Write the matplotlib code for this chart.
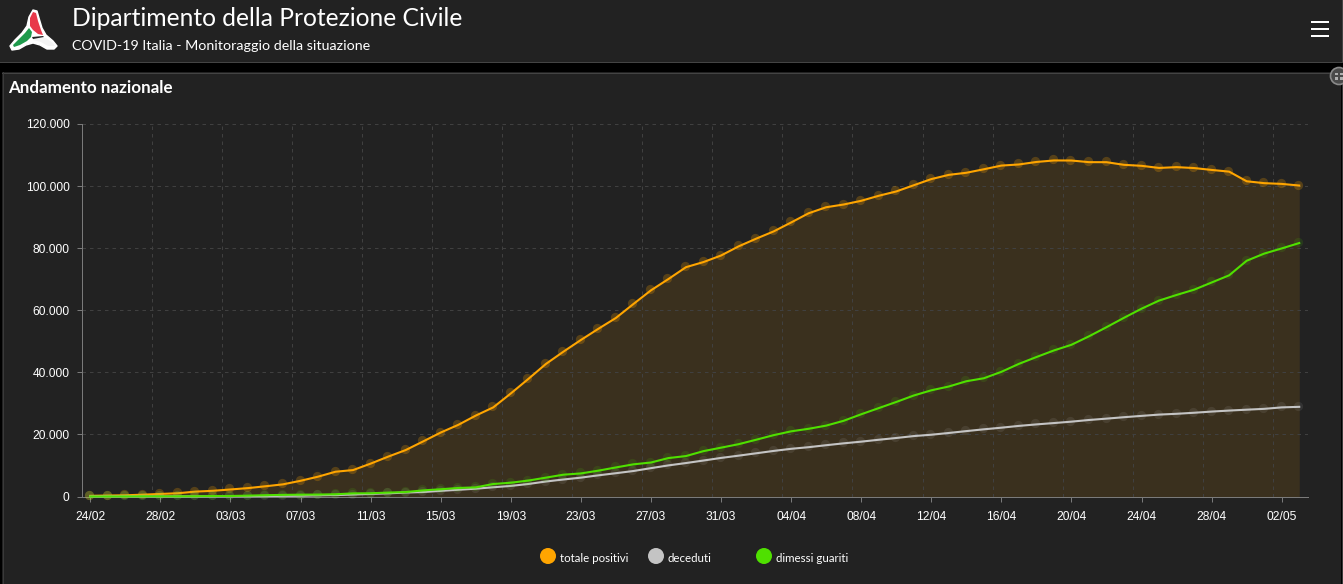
import pandas as pd
import matplotlib
matplotlib.use("Agg")
import matplotlib.pyplot as plt
from matplotlib.patches import Rectangle, Circle, PathPatch
from matplotlib.path import Path
from matplotlib.ticker import FuncFormatter
from matplotlib.transforms import offset_copy

W, H = 1343, 584

# one label per day, 24/02 to 03/05
giorni = pd.date_range("2020-02-24", "2020-05-03").strftime("%d/%m").tolist()

totale_positivi = [221, 311, 385, 588, 821, 1049, 1577, 1835, 2263, 2706,
                   3296, 3916, 5061, 6387, 7985, 8514, 10590, 12839, 14955, 17750,
                   20603, 23073, 26062, 28710, 33190, 37860, 42681, 46638, 50418, 54030,
                   57521, 62013, 66414, 70065, 73880, 75528, 77635, 80572, 83049, 85388,
                   88274, 91246, 93187, 94067, 95262, 96877, 98273, 100269, 102253, 103616,
                   104291, 105418, 106607, 106962, 107771, 108257, 108237, 107709, 107699, 106848,
                   106527, 105847, 106103, 105813, 105205, 104657, 101551, 100943, 100704, 100179]
deceduti = [7, 10, 12, 17, 21, 29, 34, 52, 79, 107,
            148, 197, 233, 366, 463, 631, 827, 1016, 1266, 1441,
            1809, 2158, 2503, 2978, 3405, 4032, 4825, 5476, 6077, 6820,
            7503, 8215, 9134, 10023, 10779, 11591, 12428, 13155, 13915, 14681,
            15362, 15887, 16523, 17127, 17669, 18279, 18849, 19468, 19899, 20465,
            21067, 21645, 22170, 22745, 23227, 23660, 24114, 24648, 25085, 25549,
            25969, 26384, 26644, 26977, 27359, 27682, 27967, 28236, 28710, 28884]
dimessi_guariti = [1, 1, 3, 45, 46, 50, 83, 149, 160, 276,
                   414, 523, 589, 622, 724, 1004, 1045, 1258, 1439, 1966,
                   2335, 2749, 2941, 4025, 4440, 5129, 6072, 7024, 7432, 8326,
                   9362, 10361, 10950, 12384, 13030, 14620, 15729, 16847, 18278, 19758,
                   20996, 21815, 22837, 24392, 26491, 28470, 30455, 32534, 34211, 35435,
                   37130, 38092, 40164, 42727, 44927, 47055, 48877, 51600, 54543, 57576,
                   60498, 63120, 64928, 66624, 68941, 71252, 75945, 78249, 79914, 81654]

y_ticks = [0, 20000, 40000, 60000, 80000, 100000, 120000]

ARANCIO = "#ffa500"
GRIGIO = "#c4c4c4"
VERDE = "#4fe000"
SFONDO = "#222222"
TESTO_FONT = ["Lato", "DejaVu Sans"]


def px(size):
    # font size given in pixels
    return size * 0.72


def draw_logo(bg):
    def blob(points, color, zorder=3, edge="none", lw=0):
        codes = [Path.MOVETO] + [Path.LINETO] * (len(points) - 2) + [Path.CLOSEPOLY]
        bg.add_patch(PathPatch(Path(points, codes), fc=color, ec=edge, lw=lw,
                               joinstyle="round", zorder=zorder))

    outline = [(33, 10), (37, 11), (39, 18), (42, 28), (46, 35), (53, 41), (57, 46), (54, 49),
               (47, 49), (40, 45), (33, 43), (26, 45), (19, 49), (12, 50), (10, 46), (15, 40),
               (22, 33), (27, 26), (29, 17), (33, 10)]
    blob(outline, "#ffffff", edge="#ffffff", lw=1)
    blob([(33, 12), (36, 13), (38, 21), (41, 30), (43, 35), (38, 34), (33, 30), (30, 26),
          (30, 18), (33, 12)], "#e8384a", 4)
    blob([(29, 28), (32, 32), (31, 37), (27, 41), (20, 45), (14, 47), (13, 45), (18, 40),
          (25, 33), (29, 28)], "#1f9a4c", 4)
    blob([(33, 38), (40, 37), (46, 38), (53, 43), (55, 46), (48, 46), (41, 42), (33, 40),
          (33, 38)], "#f4f4f4", 4)
    blob([(32, 37), (43, 36), (44, 37), (33, 39), (32, 37)], "#222222", 5)


def draw_frame(bg):
    # header bar and chart panel
    bg.add_patch(Rectangle((0, 0), W, 61.5, fc=SFONDO, ec="none"))
    bg.plot([0, 1341], [61.5, 61.5], color="#444444", lw=0.72)
    bg.plot([1341.5, 1341.5], [0, 61.5], color="#444444", lw=0.72)
    bg.add_patch(Rectangle((2, 72), 1339, H - 72, fc=SFONDO, ec="none"))
    bg.plot([2, 1341], [72.5, 72.5], color="#444444", lw=0.72)
    bg.plot([2.5, 2.5], [72, H], color="#3a3a3a", lw=0.72)
    bg.plot([1341.5, 1341.5], [72, H], color="#3a3a3a", lw=0.72)

    # hamburger menu
    for y in [21.5, 29, 36]:
        bg.add_patch(Rectangle((1311, y - 1), 18, 2, fc="white", ec="none"))

    # expand button, cut by the page edge
    bg.add_patch(Circle((1339, 76), 8.5, fc="#4a4a4a", ec="#8a8a8a", lw=1.2, zorder=3))
    for xs, ys in [((1335, 1338), (72.5, 75)), ((1340, 1343), (72.5, 75)),
                   ((1335, 1338), (77, 79.5)), ((1340, 1343), (77, 79.5))]:
        bg.add_patch(Rectangle((xs[0], ys[0]), xs[1] - xs[0], ys[1] - ys[0], fc="#b0b0b0",
                               ec="none", zorder=4))

    draw_logo(bg)

    bg.text(72, 19, "Dipartimento della Protezione Civile", color="white", family=TESTO_FONT,
            fontsize=px(24.6), va="center", ha="left")
    bg.text(72, 46.5, "COVID-19 Italia - Monitoraggio della situazione", color="white",
            family=TESTO_FONT, fontsize=px(14.3), va="center", ha="left")
    bg.text(8, 88, "Andamento nazionale", color="white", family=TESTO_FONT, weight="bold",
            fontsize=px(17), va="center", ha="left")


def draw_legend(bg):
    voci = [("totale positivi", ARANCIO, 548), ("deceduti", GRIGIO, 656), ("dimessi guariti", VERDE, 764)]
    for nome, colore, x in voci:
        bg.add_patch(Circle((x, 556), 8, fc=colore, ec="none"))
        bg.text(x + 12, 558, nome, color="white", family=TESTO_FONT, fontsize=px(11.5),
                va="center", ha="left")


def main():
    fig = plt.figure(figsize=(W / 100, H / 100), dpi=100, facecolor="black")

    bg = fig.add_axes([0, 0, 1, 1], zorder=0)
    bg.set_xlim(0, W)
    bg.set_ylim(H, 0)
    bg.axis("off")
    draw_frame(bg)
    draw_legend(bg)

    left, right, top, bottom = 81.5, 1308, 124, 496.5
    ax = fig.add_axes([left / W, 1 - bottom / H, (right - left) / W, (bottom - top) / H], zorder=1)
    ax.patch.set_alpha(0)

    x = list(range(len(giorni)))
    ax.fill_between(x, totale_positivi, 0, color=ARANCIO, alpha=0.11, lw=0, zorder=1)

    # vertical grid sits between the day slots, horizontal on the ticks
    griglia = "#404040"
    for g in range(4, len(giorni), 4):
        ax.axvline(g - 0.5, color=griglia, lw=0.72, dashes=(3.5, 4), zorder=2)
    for t in y_ticks[1:]:
        ax.axhline(t, color=griglia, lw=0.72, dashes=(3.5, 4), zorder=2)

    # the dots sit a little up and left of the line in the original
    dot_tr = offset_copy(ax.transData, fig=fig, x=-1, y=1, units="dots")
    for serie, colore, z, a in [(totale_positivi, ARANCIO, 3, 0.24), (deceduti, GRIGIO, 4, 0.11),
                                (dimessi_guariti, VERDE, 5, 0.12)]:
        ax.scatter(x, serie, s=44, color=colore, alpha=a, linewidths=0, zorder=z, clip_on=False,
                   transform=dot_tr)
        ax.plot(x, serie, color=colore, lw=1.5, zorder=z + 0.5, solid_joinstyle="round", clip_on=False)

    ax.set_xlim(-0.5, len(giorni) - 0.5)
    ax.set_ylim(0, 120000)
    ax.set_xticks(x[::4])
    ax.set_xticklabels(giorni[::4])
    ax.set_yticks(y_ticks)
    ax.yaxis.set_major_formatter(FuncFormatter(lambda v, _: f"{int(v):,}".replace(",", ".")))

    for spine in ["top", "right"]:
        ax.spines[spine].set_visible(False)
    for spine in ["left", "bottom"]:
        ax.spines[spine].set_color("#7a7a7a")
        ax.spines[spine].set_linewidth(0.72)
    ax.tick_params(axis="both", colors="#7a7a7a", length=3.6, width=0.72, labelcolor="white",
                   labelsize=px(12))
    ax.tick_params(axis="x", pad=7)
    ax.tick_params(axis="y", pad=5)
    for lab in ax.get_xticklabels() + ax.get_yticklabels():
        lab.set_family(["Liberation Sans", "DejaVu Sans"])

    fig.savefig("out.png", dpi=100, facecolor=fig.get_facecolor())


if __name__ == "__main__":
    main()
